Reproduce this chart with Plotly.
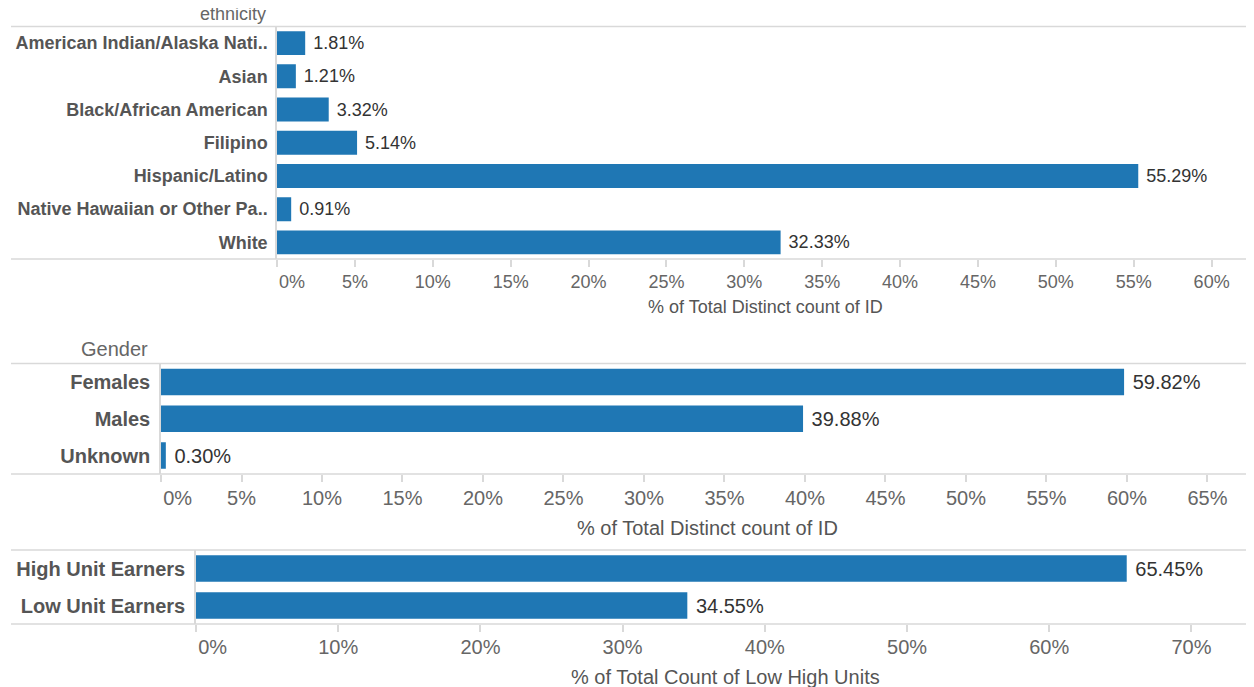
import plotly.graph_objects as go

# ---------------- data ----------------
eth_categories = ["American Indian/Alaska Nati..", "Asian", "Black/African American",
                  "Filipino", "Hispanic/Latino", "Native Hawaiian or Other Pa..", "White"]
eth_values = [1.81, 1.21, 3.32, 5.14, 55.29, 0.91, 32.33]

gender_categories = ["Females", "Males", "Unknown"]
gender_values = [59.82, 39.88, 0.30]

units_categories = ["High Unit Earners", "Low Unit Earners"]
units_values = [65.45, 34.55]

eth_ticks = list(range(0, 61, 5))
gender_ticks = list(range(0, 66, 5))
units_ticks = list(range(0, 71, 10))

eth_header = "ethnicity"
gender_header = "Gender"
eth_title = "% of Total Distinct count of ID"
gender_title = "% of Total Distinct count of ID"
units_title = "% of Total Count of Low High Units"

# ---------------- layout geometry ----------------
OFF = 8                      # default page body margin
W, H = 1254 - OFF, 687 - OFF
FONT = "Liberation Sans, Arial, sans-serif"
BAR = "#1f77b4"
LINE = "#d9d9d9"
LABEL_C = "#555555"
TICK_C = "#666666"
VAL_C = "#333333"
NBSP = "\u00a0"

panels = [
    dict(cats=eth_categories, vals=eth_values, ticks=eth_ticks, x0=277, top=26.5, bottom=259,
         xmax=62.72, fs=18, header=eth_header, header_x=268, header_dy=12.5,
         title=eth_title, title_dy=48, tick_standoff=-1, cat_standoff=4),
    dict(cats=gender_categories, vals=gender_values, ticks=gender_ticks, x0=161, top=363.5, bottom=474,
         xmax=67.89, fs=20, header=gender_header, header_x=150, header_dy=14.5,
         title=gender_title, title_dy=54, tick_standoff=-1, cat_standoff=5),
    dict(cats=units_categories, vals=units_values, ticks=units_ticks, x0=196, top=550, bottom=624,
         xmax=74.4, fs=20, header=None, header_x=None, header_dy=0,
         title=units_title, title_dy=53, tick_standoff=-2, cat_standoff=5),
]


def px_x(v):
    return (v - OFF) / W


def px_y(v):
    return 1 - (v - OFF) / H


def tick_text(t):
    return (NBSP * 6 + "0%") if t == 0 else f"{t}%"


fig = go.Figure()
shapes = []
annotations = []
layout = dict(
    width=W, height=H,
    margin=dict(l=0, r=0, t=0, b=0, autoexpand=False),
    paper_bgcolor="white", plot_bgcolor="white",
    showlegend=False,
    font=dict(family=FONT, color=TICK_C),
)

for i, p in enumerate(panels, start=1):
    sfx = "" if i == 1 else str(i)
    xa, ya = "x" + sfx, "y" + sfx
    fig.add_trace(go.Bar(
        x=p["vals"], y=p["cats"], orientation="h",
        xaxis=xa, yaxis=ya, width=0.72,
        marker=dict(color=BAR, line=dict(width=0)),
        texttemplate=NBSP + "%{x:.2f}%", textposition="outside",
        textfont=dict(family=FONT, size=p["fs"], color=VAL_C),
        cliponaxis=False, hoverinfo="skip",
    ))
    n = len(p["cats"])
    layout["xaxis" + sfx] = dict(
        domain=[px_x(p["x0"]), 1.0], anchor=ya, range=[0, p["xmax"]],
        tickvals=p["ticks"], ticktext=[tick_text(t) for t in p["ticks"]],
        ticks="outside", ticklen=7, tickwidth=1.5, tickcolor=LINE,
        showgrid=False, zeroline=False, showline=False, automargin=False,
        tickfont=dict(family=FONT, size=p["fs"], color=TICK_C),
        ticklabelstandoff=p["tick_standoff"],
    )
    layout["yaxis" + sfx] = dict(
        domain=[px_y(p["bottom"]), px_y(p["top"])], anchor=xa,
        type="category", categoryorder="array", categoryarray=p["cats"],
        range=[n - 0.5, -0.5], automargin=False,
        showgrid=False, zeroline=False, showline=True, linecolor=LINE, linewidth=1.5,
        ticks="", ticklabelstandoff=p["cat_standoff"],
        tickfont=dict(family=FONT, size=p["fs"], color=LABEL_C, weight="bold"),
    )
    for yy in (0, 1):
        shapes.append(dict(type="line", xref="paper", yref=ya + " domain",
                           x0=px_x(11), x1=1.0, y0=yy, y1=yy,
                           line=dict(color=LINE, width=1.5), layer="below"))
    annotations.append(dict(text=p["title"], xref=xa + " domain", yref=ya + " domain",
                            x=0.5, y=0, xanchor="center", yanchor="middle",
                            yshift=-p["title_dy"], showarrow=False,
                            font=dict(family=FONT, size=p["fs"], color=LABEL_C)))
    if p["header"]:
        annotations.append(dict(text=p["header"], xref="paper", yref=ya + " domain",
                                x=px_x(p["header_x"]), y=1, xanchor="right", yanchor="middle",
                                yshift=p["header_dy"], showarrow=False,
                                font=dict(family=FONT, size=p["fs"], color=TICK_C)))

layout["shapes"] = shapes
layout["annotations"] = annotations
fig.update_layout(**layout)
fig.write_html("out.html")
